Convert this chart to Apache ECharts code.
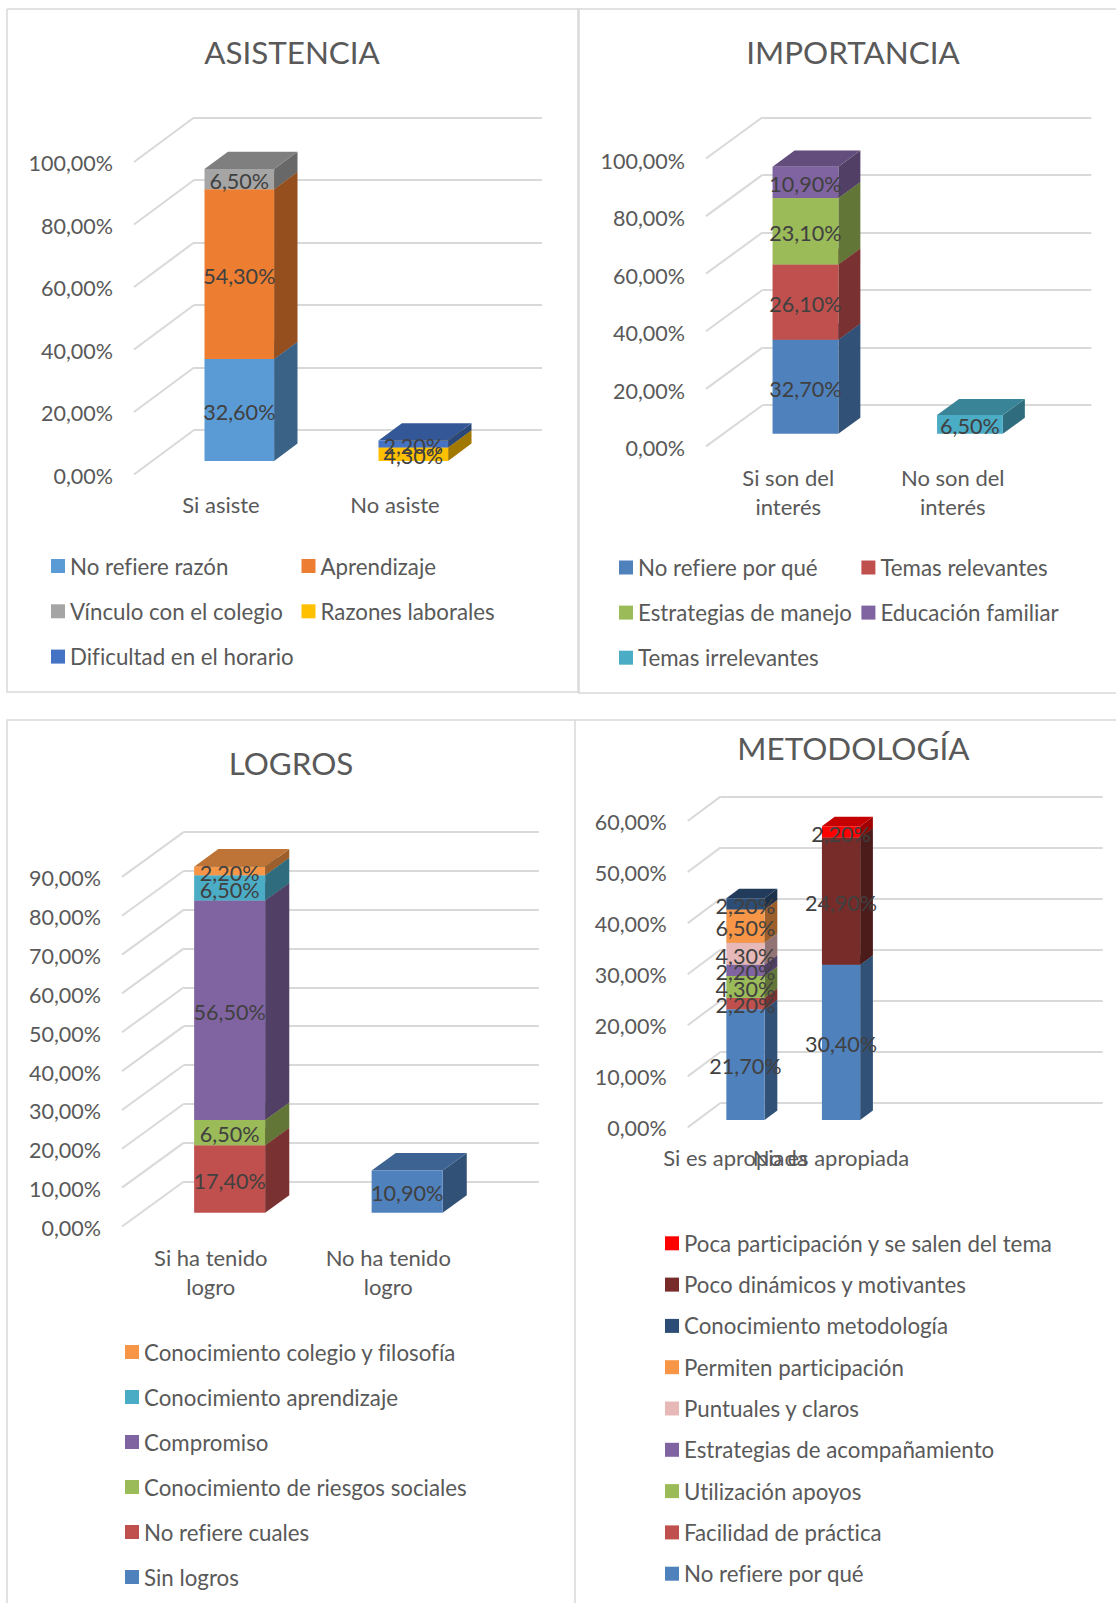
<!DOCTYPE html>
<html>
<head>
<meta charset="utf-8">
<title>Asistencia, importancia, logros y metodología</title>
<script src="https://cdn.jsdelivr.net/npm/echarts@6/dist/echarts.min.js"></script>
<style>
  html, body { margin: 0; padding: 0; background: #fff; }
  #chart { width: 1116px; height: 1603px; }
  #chart text { font-variant-ligatures: none; }
</style>
</head>
<body>
<div id="chart"></div>
<script>
// datos
const asistenciaCategories = ['Si asiste', 'No asiste'];
const asistenciaNames = ['No refiere razón', 'Aprendizaje', 'Vínculo con el colegio', 'Razones laborales', 'Dificultad en el horario'];
const asistenciaValues = [
  [32.6, null],
  [54.3, null],
  [6.5, null],
  [null, 4.3],
  [null, 2.2]
];
const asistenciaColors = ['#5B9BD5', '#ED7D31', '#A5A5A5', '#FFC000', '#4472C4'];

const importanciaCategories = ['Si son del\ninterés', 'No son del\ninterés'];
const importanciaNames = ['No refiere por qué', 'Temas relevantes', 'Estrategias de manejo', 'Educación familiar', 'Temas irrelevantes'];
const importanciaValues = [
  [32.7, null],
  [26.1, null],
  [23.1, null],
  [10.9, null],
  [null, 6.5]
];
const importanciaColors = ['#4F81BD', '#C0504D', '#9BBB59', '#8064A2', '#4BACC6'];

const logrosCategories = ['Si ha tenido\nlogro', 'No ha tenido\nlogro'];
const logrosNames = ['Sin logros', 'No refiere cuales', 'Conocimiento de riesgos sociales', 'Compromiso', 'Conocimiento aprendizaje', 'Conocimiento colegio y filosofía'];
const logrosValues = [
  [null, 10.9],
  [17.4, null],
  [6.5, null],
  [56.5, null],
  [6.5, null],
  [2.2, null]
];
const logrosColors = ['#4F81BD', '#C0504D', '#9BBB59', '#8064A2', '#4BACC6', '#F79646'];

const metodologiaCategories = ['Si es apropiada', 'No es apropiada', '', ''];
const metodologiaNames = ['No refiere por qué', 'Facilidad de práctica', 'Utilización apoyos', 'Estrategias de acompañamiento', 'Puntuales y claros', 'Permiten participación', 'Conocimiento metodología', 'Poco dinámicos y motivantes', 'Poca participación y se salen del tema'];
const metodologiaValues = [
  [21.7, 30.4],
  [2.2, null],
  [4.3, null],
  [2.2, null],
  [4.3, null],
  [6.5, null],
  [2.2, null],
  [null, 24.9],
  [null, 2.2]
];
const metodologiaColors = ['#4F81BD', '#C0504D', '#9BBB59', '#8064A2', '#E6B8B7', '#F79646', '#2C4D75', '#772C2A', '#FF0000'];

const FONT = 'Lato, sans-serif';
const TEXT = '#595959';
const LABEL = '#404040';
const WALL = '#d9d9d9';

// geometria de cada panel: plano frontal + desplazamiento hacia la pared del fondo
const panels = [
  {
    title: 'ASISTENCIA', titleX: 292, titleY: 52,
    categories: asistenciaCategories, names: asistenciaNames, values: asistenciaValues, colors: asistenciaColors,
    max: 100, interval: 20, tickShift: 1,
    front: { left: 134, width: 348, top: 162, bottom: 474.5 }, dx: 60, dy: 44.5, catMargin: 15,
    legends: [
      { left: 51, top: 566, pitch: 45.3, names: ['No refiere razón', 'Vínculo con el colegio', 'Dificultad en el horario'] },
      { left: 301.5, top: 566, pitch: 45.3, names: ['Aprendizaje', 'Razones laborales'] }
    ]
  },
  {
    title: 'IMPORTANCIA', titleX: 853, titleY: 52,
    categories: importanciaCategories, names: importanciaNames, values: importanciaValues, colors: importanciaColors,
    max: 100, interval: 20, tickShift: 2,
    front: { left: 706, width: 329, top: 158.5, bottom: 446.4 }, dx: 56.4, dy: 41.2, catMargin: 17,
    legends: [
      { left: 619, top: 567.5, pitch: 45.1, names: ['No refiere por qué', 'Estrategias de manejo', 'Temas irrelevantes'] },
      { left: 861.4, top: 567.5, pitch: 45.1, names: ['Temas relevantes', 'Educación familiar'] }
    ]
  },
  {
    title: 'LOGROS', titleX: 291, titleY: 763,
    categories: logrosCategories, names: logrosNames, values: logrosValues, colors: logrosColors,
    max: 90, interval: 10, tickShift: 1.5,
    front: { left: 122, width: 355, top: 876.9, bottom: 1226.5 }, dx: 61.9, dy: 45, catMargin: 16,
    legends: [
      { left: 125, top: 1352, pitch: 45, names: ['Conocimiento colegio y filosofía', 'Conocimiento aprendizaje', 'Compromiso', 'Conocimiento de riesgos sociales', 'No refiere cuales', 'Sin logros'] }
    ]
  },
  {
    title: 'METODOLOGÍA', titleX: 853.4, titleY: 747.7,
    categories: metodologiaCategories, names: metodologiaNames, values: metodologiaValues, colors: metodologiaColors,
    max: 60, interval: 10, tickShift: 1,
    front: { left: 687.7, width: 382.3, top: 821, bottom: 1127.4 }, dx: 32.7, dy: 24.4, catMargin: 16,
    legends: [
      { left: 665, top: 1243.3, pitch: 41.3, names: metodologiaNames.slice().reverse() }
    ]
  }
];

// posicion de la barra en la profundidad y ancho dentro de la categoria
const BAR_OFFSET = 0.305;
const BAR_DEPTH = 0.39;
const BAR_WIDTH = 0.4;

function shade(hex, k) {
  const n = parseInt(hex.slice(1), 16);
  const r = Math.round((n >> 16 & 255) * k);
  const g = Math.round((n >> 8 & 255) * k);
  const b = Math.round((n & 255) * k);
  return 'rgb(' + r + ',' + g + ',' + b + ')';
}

function pct(v) {
  return v.toFixed(2).replace('.', ',') + '%';
}

function barRenderer(panel, color) {
  return function (params, api) {
    const cat = api.value(0);
    const pBase = api.coord([cat, api.value(1)]);
    const pTop = api.coord([cat, api.value(2)]);
    const band = api.size([1, 0])[0];
    const w = band * BAR_WIDTH;
    const ox = panel.dx * BAR_OFFSET, oy = panel.dy * BAR_OFFSET;
    const sx = panel.dx * BAR_DEPTH, sy = panel.dy * BAR_DEPTH;
    const x0 = pBase[0] - w / 2 + ox, x1 = x0 + w;
    const yb = pBase[1] - oy, yt = pTop[1] - oy;
    return {
      type: 'group',
      children: [
        { type: 'polygon', shape: { points: [[x1, yb], [x1 + sx, yb - sy], [x1 + sx, yt - sy], [x1, yt]] }, style: { fill: shade(color, 0.63) } },
        { type: 'polygon', shape: { points: [[x0, yt], [x1, yt], [x1 + sx, yt - sy], [x0 + sx, yt - sy]] }, style: { fill: shade(color, 0.77) } },
        { type: 'rect', shape: { x: x0, y: yt, width: w, height: yb - yt }, style: { fill: color } },
        {
          type: 'text', z2: 100,
          style: {
            x: (x0 + x1) / 2, y: (yb + yt) / 2 + 1.8,
            text: pct(api.value(3)),
            align: 'center', verticalAlign: 'middle', textAlign: 'center', textVerticalAlign: 'middle',
            font: '21.6px ' + FONT, fill: LABEL
          }
        }
      ]
    };
  };
}

function wallRenderer(panel) {
  return function (params, api) {
    const y = api.coord([0, api.value(1)])[1];
    const x = params.coordSys.x;
    return {
      type: 'line',
      shape: { x1: x, y1: y, x2: x + panel.dx, y2: y - panel.dy },
      style: { stroke: WALL, lineWidth: 2 }
    };
  };
}

const option = {
  animation: false,
  backgroundColor: '#fff',
  title: [], grid: [], xAxis: [], yAxis: [], legend: [], series: [],
  graphic: [
    // marcos de los cuatro paneles
    { type: 'polyline', silent: true, shape: { points: [[7, 9], [578, 9], [578, 692], [7, 692], [7, 9]] }, style: { stroke: WALL, fill: null, lineWidth: 1.5 } },
    { type: 'polyline', silent: true, shape: { points: [[1116, 9], [579, 9], [579, 693], [1116, 693]] }, style: { stroke: WALL, fill: null, lineWidth: 1.5 } },
    { type: 'polyline', silent: true, shape: { points: [[7, 1603], [7, 720], [575, 720], [575, 1603]] }, style: { stroke: WALL, fill: null, lineWidth: 1.5 } },
    { type: 'polyline', silent: true, shape: { points: [[1116, 720], [575, 720]] }, style: { stroke: WALL, fill: null, lineWidth: 1.5 } }
  ]
};

panels.forEach(function (panel) {
  const f = panel.front;
  const frontIndex = option.grid.length;
  const backIndex = frontIndex + 1;

  option.title.push({
    text: panel.title, left: panel.titleX, top: panel.titleY - 20, textAlign: 'center', padding: 0,
    textStyle: { fontFamily: FONT, fontSize: 31.4, fontWeight: 'normal', color: TEXT, lineHeight: 40 }
  });

  // plano frontal: etiquetas de los ejes y barras
  option.grid.push({ left: f.left, width: f.width, top: f.top, height: f.bottom - f.top });
  // pared del fondo: lineas horizontales
  option.grid.push({ left: f.left + panel.dx, width: f.width, top: f.top - panel.dy, height: f.bottom - f.top });

  option.xAxis.push({
    type: 'category', gridIndex: frontIndex, data: panel.categories,
    axisLine: { show: false }, axisTick: { show: false },
    axisLabel: { interval: 0, margin: panel.catMargin, fontFamily: FONT, fontSize: 22, color: TEXT, lineHeight: 29 }
  });
  option.xAxis.push({ type: 'category', gridIndex: backIndex, data: panel.categories, show: false });

  // verticalAlign top + lineHeight pequeño baja el texto tickShift px respecto a la marca
  option.yAxis.push({
    type: 'value', gridIndex: frontIndex, min: 0, max: panel.max, interval: panel.interval,
    axisLine: { show: false }, axisTick: { show: false }, splitLine: { show: false },
    axisLabel: { margin: 21, verticalAlign: 'top', lineHeight: panel.tickShift * 2, fontFamily: FONT, fontSize: 21.5, color: TEXT, formatter: pct }
  });
  option.yAxis.push({
    type: 'value', gridIndex: backIndex, min: 0, max: panel.max, interval: panel.interval,
    axisLine: { show: false }, axisTick: { show: false }, axisLabel: { show: false },
    splitLine: { show: true, lineStyle: { color: WALL, width: 2 } }
  });

  // diagonales de la pared lateral
  const ticks = [];
  for (let t = 0; t <= panel.max; t += panel.interval) ticks.push([0, t]);
  option.series.push({
    type: 'custom', name: panel.title + ' pared', xAxisIndex: frontIndex, yAxisIndex: frontIndex,
    data: ticks, encode: { x: 0, y: 1 }, clip: false, silent: true, z: 1,
    renderItem: wallRenderer(panel)
  });

  // barras apiladas
  const stack = panel.categories.map(function () { return 0; });
  panel.names.forEach(function (name, i) {
    const data = [];
    panel.values[i].forEach(function (v, cat) {
      if (v === null) return;
      data.push([cat, stack[cat], stack[cat] + v, v]);
      stack[cat] += v;
    });
    option.series.push({
      type: 'custom', name: name, xAxisIndex: frontIndex, yAxisIndex: frontIndex,
      data: data, encode: { x: 0, y: [1, 2] }, clip: false, z: 2 + i,
      itemStyle: { color: panel.colors[i] },
      renderItem: barRenderer(panel, panel.colors[i])
    });
  });

  panel.legends.forEach(function (l) {
    option.legend.push({
      orient: 'vertical', left: l.left, top: l.top - 12, padding: 0,
      itemWidth: 14, itemHeight: 14, itemGap: l.pitch - 24, icon: 'rect',
      selectedMode: false, data: l.names,
      textStyle: { fontFamily: FONT, fontSize: 22.3, color: TEXT, lineHeight: 24 }
    });
  });
});

const chart = echarts.init(document.getElementById('chart'), null, { renderer: 'svg' });
chart.setOption(option);
</script>
</body>
</html>
